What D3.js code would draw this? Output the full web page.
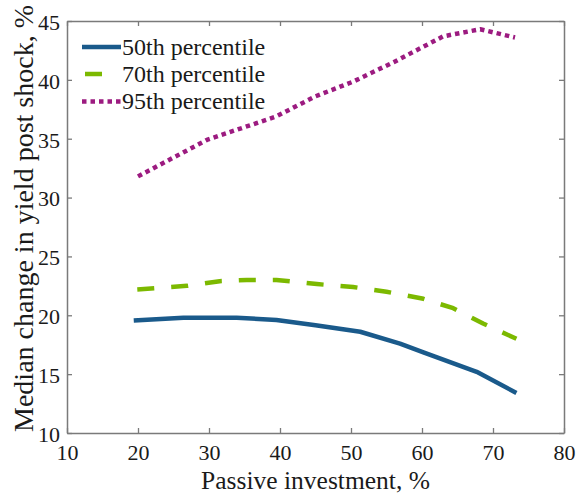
<!DOCTYPE html>
<html><head><meta charset="utf-8">
<script src="https://cdn.jsdelivr.net/npm/d3@7"></script>
<style>
html,body{margin:0;padding:0;background:#fff;}
svg{display:block;}
svg text{font-family:"Liberation Serif","Times New Roman",serif !important;}
</style></head>
<body>
<svg id="chart" width="578" height="494"></svg>
<script>
// ---- data ----
const xTicks = [10, 20, 30, 40, 50, 60, 70, 80];
const yTicks = [10, 15, 20, 25, 30, 35, 40, 45];
const seriesNames = ["50th percentile", "70th percentile", "95th percentile"];

const p50x = [19.4, 26.4, 33.9, 39.5, 45.0, 51.3, 56.9, 60.2, 67.7, 73.3];
const p50y = [19.55, 19.8, 19.8, 19.6, 19.15, 18.6, 17.6, 16.85, 15.2, 13.4];

const p70x = [19.9, 26.9, 31.5, 35.3, 39.5, 45.2, 50.3, 55.0, 60.2, 64.4, 68.6, 73.3];
const p70y = [22.2, 22.5, 22.9, 23.0, 23.0, 22.65, 22.4, 22.0, 21.4, 20.6, 19.3, 18.0];

const p95x = [20.0, 29.7, 39.5, 45.0, 50.3, 56.0, 63.0, 68.2, 73.1];
const p95y = [31.8, 34.9, 36.9, 38.6, 39.85, 41.5, 43.7, 44.3, 43.6];

// ---- layout ----
const L = 67, R = 564, T = 21, B = 433;
const svg = d3.select("#chart");
const x = d3.scaleLinear().domain([10, 80]).range([L, R]);
const y = d3.scaleLinear().domain([10, 45]).range([B, T]);

const frame = "#7a7a7a";

// axes (ticks inward)
const axB = svg.append("g").attr("transform", `translate(0,${B})`)
  .call(d3.axisBottom(x).tickValues(xTicks).tickSizeInner(-5).tickSizeOuter(0).tickPadding(11));
const axT = svg.append("g").attr("transform", `translate(0,${T})`)
  .call(d3.axisTop(x).tickValues(xTicks).tickSizeInner(-5).tickSizeOuter(0).tickFormat(""));
const axL = svg.append("g").attr("transform", `translate(${L},0)`)
  .call(d3.axisLeft(y).tickValues(yTicks).tickSizeInner(-5).tickSizeOuter(0).tickPadding(7));
const axR = svg.append("g").attr("transform", `translate(${R},0)`)
  .call(d3.axisRight(y).tickValues(yTicks).tickSizeInner(-5).tickSizeOuter(0).tickFormat(""));

[axB, axT, axL, axR].forEach(a => {
  a.attr("font-family", null);
  a.selectAll(".domain").attr("stroke", frame).attr("stroke-width", 1.5);
  a.selectAll(".tick line").attr("stroke", frame).attr("stroke-width", 1.3);
  a.selectAll("text").attr("font-size", 22).attr("fill", "#1a1a1a");
});
axB.selectAll("text").attr("dy", "0.71em");
axL.selectAll("text").attr("dy", "0.38em");

// series
const line = d3.line().x(d => x(d[0])).y(d => y(d[1]));
const zip = (a, b) => a.map((v, i) => [v, b[i]]);

const styles = [
  { color: "#1a5a8b", width: 4.5, dash: null },
  { color: "#7cb900", width: 4.5, dash: "17,17" },
  { color: "#9c1b80", width: 4.5, dash: "4.5,4" }
];
const data = [zip(p50x, p50y), zip(p70x, p70y), zip(p95x, p95y)];

data.forEach((d, i) => {
  svg.append("path").datum(d)
    .attr("d", line)
    .attr("fill", "none")
    .attr("stroke", styles[i].color)
    .attr("stroke-width", styles[i].width)
    .attr("stroke-dasharray", styles[i].dash)
    .attr("stroke-linejoin", "round");
});

// legend
const leg = svg.append("g");
const rowY = [47, 74, 101.5];
seriesNames.forEach((name, i) => {
  leg.append("line")
    .attr("x1", 82).attr("x2", 121).attr("y1", rowY[i]).attr("y2", rowY[i])
    .attr("stroke", styles[i].color).attr("stroke-width", styles[i].width)
    .attr("stroke-dasharray", i === 1 ? "0,3,17,17" : styles[i].dash);
  leg.append("text")
    .attr("x", 122).attr("y", rowY[i] + 7.5)
    .attr("font-size", 24).attr("fill", "#1a1a1a")
    .text(name);
});

// axis labels
svg.append("text")
  .attr("x", (L + R) / 2).attr("y", 488.5)
  .attr("text-anchor", "middle")
  .attr("font-size", 25.5).attr("fill", "#1a1a1a")
  .text("Passive investment, %");

svg.append("text")
  .attr("transform", `translate(33,${(5 + 432) / 2}) rotate(-90)`)
  .attr("text-anchor", "middle")
  .attr("font-size", 28).attr("fill", "#1a1a1a")
  .text("Median change in yield post shock, %");
</script>
</body></html>
